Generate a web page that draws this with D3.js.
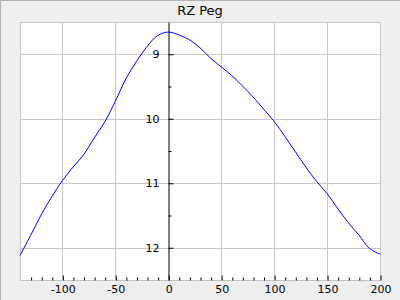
<!DOCTYPE html>
<html>
<head>
<meta charset="utf-8">
<script src="https://cdn.jsdelivr.net/npm/d3@7"></script>
<style>
  html, body { margin: 0; padding: 0; background: #efefef; }
  svg { display: block; font-family: "DejaVu Sans", sans-serif; }
</style>
</head>
<body>
<svg id="chart" width="400" height="300"></svg>
<script>
const title = 'RZ Peg';

// phase in days and visual magnitude
const days = [-140, -130, -120, -110, -100, -90, -80, -70, -60, -50, -40, -30, -20, -10,
  0, 10, 20, 30, 40, 50, 60, 70, 80, 90, 100, 110, 120, 130, 140, 150, 160, 170, 180, 190, 200];
const mags = [12.12, 11.81, 11.49, 11.21, 10.96, 10.75, 10.56, 10.30, 10.05, 9.73, 9.38, 9.11, 8.88, 8.71,
  8.656, 8.70, 8.775, 8.90, 9.06, 9.195, 9.33, 9.49, 9.66, 9.85, 10.04, 10.27, 10.51, 10.75, 10.97, 11.16, 11.39, 11.61, 11.80, 12.01, 12.10];

const xMajor = [-100, -50, 0, 50, 100, 150, 200];
const xMinor = [-130, -120, -110, -90, -80, -70, -60, -40, -30, -20, -10,
  10, 20, 30, 40, 60, 70, 80, 90, 110, 120, 130, 140, 160, 170, 180, 190];
const yMajor = [9, 10, 11, 12];
const yMinor = [9.5, 10.5, 11.5];

const width = 400, height = 300;
const plot = { left: 20, right: 380, top: 22, bottom: 280 };

const svg = d3.select('#chart');

const x = d3.scaleLinear().domain([-140, 200]).range([plot.left, plot.right]);
const y = d3.scaleLinear().domain([8.5, 12.5]).range([plot.top, plot.bottom]);
const crisp = v => Math.round(v) + 0.5;

// background and the sunken frame
svg.append('rect').attr('width', width).attr('height', height).attr('fill', '#efefef');
svg.append('path').attr('d', `M0.5,${height}V0.5H${width}`)
  .attr('fill', 'none').attr('stroke', '#b0b0b0');

svg.append('rect')
  .attr('x', plot.left + 0.5).attr('y', plot.top + 0.5)
  .attr('width', plot.right - plot.left).attr('height', plot.bottom - plot.top)
  .attr('fill', '#ffffff').attr('stroke', '#c4c4c4');

// grid
const grid = svg.append('g').attr('stroke', '#c8c8c8').attr('stroke-width', 1);
grid.selectAll('line.gx').data(xMajor.filter(d => d !== 0 && d !== 200)).enter()
  .append('line').classed('gx', true)
  .attr('x1', d => crisp(x(d))).attr('x2', d => crisp(x(d)))
  .attr('y1', plot.top).attr('y2', plot.bottom);
grid.selectAll('line.gy').data(yMajor).enter()
  .append('line').classed('gy', true)
  .attr('x1', plot.left).attr('x2', plot.right)
  .attr('y1', d => crisp(y(d))).attr('y2', d => crisp(y(d)));

// curve
const line = d3.line()
  .x((d, i) => x(days[i]))
  .y(d => y(d))
  .curve(d3.curveCatmullRom);

svg.append('path')
  .datum(mags)
  .attr('d', line)
  .attr('fill', 'none')
  .attr('stroke', '#0000ff')
  .attr('stroke-width', 1);

// x axis along the bottom, ticks pointing up
const xAxis = svg.append('g')
  .attr('transform', `translate(0.5,${plot.bottom + 0.5})`)
  .call(d3.axisBottom(x).tickValues(xMajor).tickFormat(d => String(d))
    .tickSizeInner(-5).tickSizeOuter(0).tickPadding(5));
xAxis.select('.domain').remove();
const xMinorAxis = svg.append('g')
  .attr('transform', `translate(0.5,${plot.bottom + 0.5})`)
  .call(d3.axisBottom(x).tickValues(xMinor).tickFormat('').tickSizeInner(-3).tickSizeOuter(0));
xMinorAxis.select('.domain').remove();

// y axis on day zero, ticks pointing right, labels on the left
const yAxis = svg.append('g')
  .attr('transform', `translate(${crisp(x(0))},0)`)
  .call(d3.axisLeft(y).tickValues(yMajor).tickFormat(d => String(d))
    .tickSizeInner(-5).tickSizeOuter(0).tickPadding(9));
yAxis.select('.domain').attr('stroke', '#000');
const yMinorAxis = svg.append('g')
  .attr('transform', `translate(${crisp(x(0))},0)`)
  .call(d3.axisLeft(y).tickValues(yMinor).tickFormat('').tickSizeInner(-3).tickSizeOuter(0));
yMinorAxis.select('.domain').remove();

svg.selectAll('.tick text')
  .attr('font-family', '"DejaVu Sans", sans-serif')
  .attr('font-size', 11)
  .attr('fill', '#000');

svg.append('text')
  .attr('x', width / 2)
  .attr('y', 15)
  .attr('text-anchor', 'middle')
  .attr('font-size', 13)
  .attr('fill', '#000')
  .text(title);
</script>
</body>
</html>
